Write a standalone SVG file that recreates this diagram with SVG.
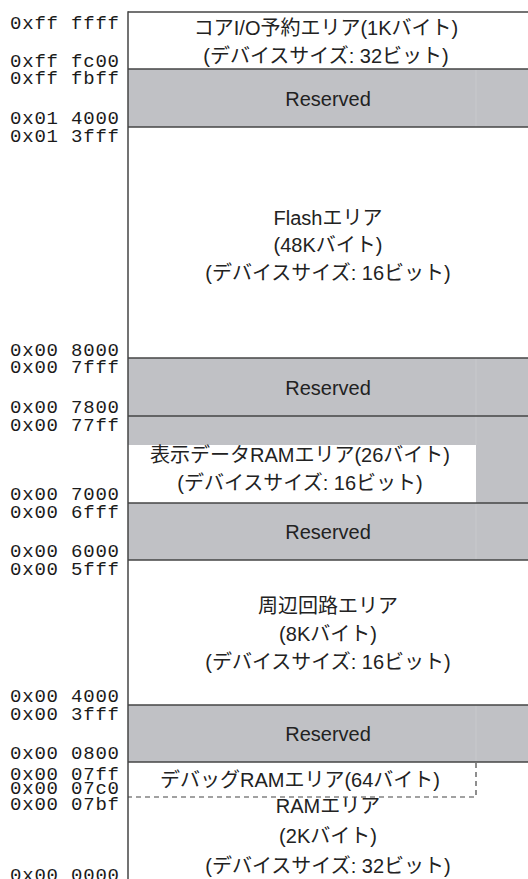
<svg xmlns="http://www.w3.org/2000/svg" width="528" height="879" viewBox="0 0 528 879">
<style>
.addr{font-family:"Liberation Mono","DejaVu Sans Mono",monospace;font-size:19px;fill:#1a1a1a}
.lbl{font-family:"Liberation Sans","Noto Sans CJK JP",sans-serif;font-size:20px;fill:#222;text-anchor:middle}
.res{fill:#c0c1c5}
.ln{stroke:#444;stroke-width:1.5;fill:none}
.dash{stroke:#444;stroke-width:1.2;stroke-dasharray:5,4;fill:none}
.seam{stroke:#c8c9cc;stroke-width:1}
</style>
<rect x="0" y="0" width="528" height="879" fill="#fff"/>
<g id="core-io">
<rect x="128" y="12" width="400" height="57" fill="#fff"/>
<text class="lbl" x="326" y="35">コアI/O予約エリア(1Kバイト)</text>
<text class="lbl" x="326" y="63">(デバイスサイズ: 32ビット)</text>
</g>
<g id="reserved1">
<rect class="res" x="128" y="69" width="400" height="58"/>
<text class="lbl" x="328" y="106">Reserved</text>
</g>
<g id="flash">
<rect x="128" y="127" width="400" height="231" fill="#fff"/>
<text class="lbl" x="328" y="225">Flashエリア</text>
<text class="lbl" x="328" y="252">(48Kバイト)</text>
<text class="lbl" x="328" y="280">(デバイスサイズ: 16ビット)</text>
</g>
<g id="reserved2">
<rect class="res" x="128" y="358" width="400" height="58"/>
<text class="lbl" x="328" y="395">Reserved</text>
</g>
<g id="display-ram">
<rect class="res" x="128" y="416" width="400" height="87"/>
<rect x="128" y="445" width="348" height="58" fill="#fff"/>
<text class="lbl" x="300" y="462">表示データRAMエリア(26バイト)</text>
<text class="lbl" x="300" y="490">(デバイスサイズ: 16ビット)</text>
</g>
<g id="reserved3">
<rect class="res" x="128" y="503" width="400" height="57"/>
<text class="lbl" x="328" y="539">Reserved</text>
</g>
<g id="peripheral">
<rect x="128" y="560" width="400" height="145" fill="#fff"/>
<text class="lbl" x="328" y="613">周辺回路エリア</text>
<text class="lbl" x="328" y="641">(8Kバイト)</text>
<text class="lbl" x="328" y="669">(デバイスサイズ: 16ビット)</text>
</g>
<g id="reserved4">
<rect class="res" x="128" y="705" width="400" height="57"/>
<text class="lbl" x="328" y="741">Reserved</text>
</g>
<g id="debug-ram">
<text class="lbl" x="300" y="787">デバッグRAMエリア(64バイト)</text>
</g>
<g id="ram">
<text class="lbl" x="328" y="813">RAMエリア</text>
<text class="lbl" x="328" y="843">(2Kバイト)</text>
<text class="lbl" x="328" y="873">(デバイスサイズ: 32ビット)</text>
</g>
<g id="lines">
<line class="seam" x1="476" y1="69" x2="476" y2="127"/>
<line class="seam" x1="476" y1="358" x2="476" y2="445"/>
<line class="seam" x1="476" y1="503" x2="476" y2="560"/>
<line class="seam" x1="476" y1="705" x2="476" y2="762"/>
<line class="ln" x1="128" y1="12" x2="528" y2="12"/>
<line class="ln" x1="128" y1="69" x2="528" y2="69"/>
<line class="ln" x1="128" y1="127" x2="528" y2="127"/>
<line class="ln" x1="128" y1="358" x2="528" y2="358"/>
<line class="ln" x1="128" y1="416" x2="528" y2="416"/>
<line class="ln" x1="128" y1="503" x2="528" y2="503"/>
<line class="ln" x1="128" y1="560" x2="528" y2="560"/>
<line class="ln" x1="128" y1="705" x2="528" y2="705"/>
<line class="ln" x1="128" y1="762" x2="528" y2="762"/>
<polyline class="dash" points="476,763 476,797 128,797"/>
<line class="ln" x1="128" y1="11.25" x2="128" y2="879"/>
</g>
<g id="addresses">
<text class="addr" x="10" y="29" textLength="109">0xff ffff</text>
<text class="addr" x="10" y="67" textLength="109">0xff fc00</text>
<text class="addr" x="10" y="84" textLength="109">0xff fbff</text>
<text class="addr" x="10" y="124" textLength="109">0x01 4000</text>
<text class="addr" x="10" y="142" textLength="109">0x01 3fff</text>
<text class="addr" x="10" y="356" textLength="109">0x00 8000</text>
<text class="addr" x="10" y="373" textLength="109">0x00 7fff</text>
<text class="addr" x="10" y="413" textLength="109">0x00 7800</text>
<text class="addr" x="10" y="431" textLength="109">0x00 77ff</text>
<text class="addr" x="10" y="500" textLength="109">0x00 7000</text>
<text class="addr" x="10" y="518" textLength="109">0x00 6fff</text>
<text class="addr" x="10" y="557" textLength="109">0x00 6000</text>
<text class="addr" x="10" y="575" textLength="109">0x00 5fff</text>
<text class="addr" x="10" y="702" textLength="109">0x00 4000</text>
<text class="addr" x="10" y="720" textLength="109">0x00 3fff</text>
<text class="addr" x="10" y="759" textLength="109">0x00 0800</text>
<text class="addr" x="10" y="780" textLength="109">0x00 07ff</text>
<text class="addr" x="10" y="794" textLength="109">0x00 07c0</text>
<text class="addr" x="10" y="810" textLength="109">0x00 07bf</text>
<text class="addr" x="10" y="881" textLength="109">0x00 0000</text>
</g>
</svg>
